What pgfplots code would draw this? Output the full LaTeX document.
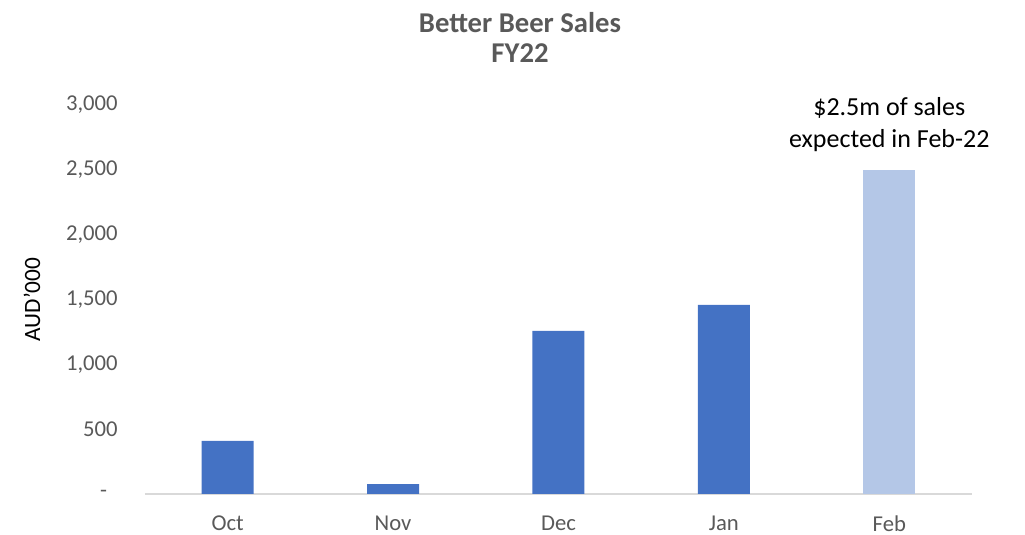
\documentclass[border=0pt]{standalone}
\usepackage{pgfplots}
\pgfplotsset{compat=1.18}
\usepackage{fontspec}
\setmainfont{Carlito}
\definecolor{barblue}{HTML}{4472C4}
\definecolor{barlight}{HTML}{B4C7E7}
\definecolor{txtgray}{HTML}{595959}
\definecolor{axgray}{HTML}{D9D9D9}
\begin{document}
\begin{tikzpicture}
\useasboundingbox (-108.75pt,-30.75pt) rectangle (660pt,370.5pt);
\begin{axis}[
  at={(0pt,0pt)}, anchor=south west,
  scale only axis,
  width=620.25pt, height=291.75pt,
  xmin=-0.5, xmax=4.5, ymin=0, ymax=3000,
  axis x line*=bottom, axis y line*=left,
  x axis line style={draw=axgray, line width=1pt},
  y axis line style={draw=none},
  xtick={0,1,2,3,4},
  xticklabels={Oct,Nov,Dec,Jan,Feb},
  major tick length=0pt,
  ytick={0,500,1000,1500,2000,2500,3000},
  yticklabels={{\raisebox{-3pt}{-}\kern8pt},500,{1,000},{1,500},{2,000},{2,500},{3,000}},
  ticklabel style={font=\fontsize{17}{18}\selectfont, text=txtgray},
  xticklabel style={inner sep=0pt, yshift=-16pt},
  yticklabel style={xshift=-17pt},
  ybar, bar width=39pt, bar shift=0pt,
  clip=false,
]
\addplot[fill=barblue, draw=none] coordinates {(0,410) (1,77) (2,1258) (3,1458)};
\addplot[fill=barlight, draw=none] coordinates {(4,2500)};
\node[anchor=south, align=center, font=\fontsize{19.5}{24}\selectfont, text=black, yshift=10pt]
  at (axis cs:4,2500) {\$2.5m of sales\\expected in Feb-22};
\end{axis}
\node[font=\fontsize{17.5}{20}\selectfont, rotate=90, text=black] at (-84.75pt,145.9pt) {AUD’000};
\node[align=center, font=\bfseries\fontsize{21.5}{22.5}\selectfont, text=txtgray, anchor=center] at (281.25pt,342.75pt) {Better Beer Sales\\FY22};
\end{tikzpicture}
\end{document}
